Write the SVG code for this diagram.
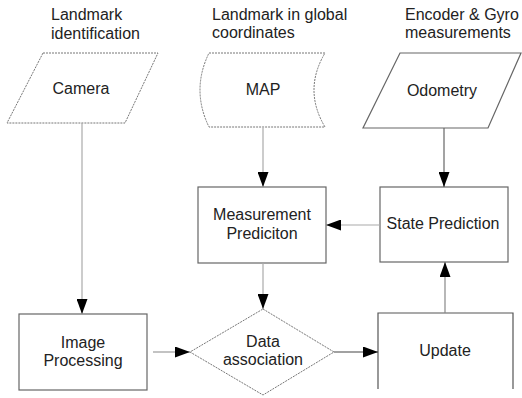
<svg xmlns="http://www.w3.org/2000/svg" width="522" height="398" viewBox="0 0 522 398">
<defs>
<marker id="ah" markerWidth="15" markerHeight="11" refX="15" refY="5.5" orient="auto" markerUnits="userSpaceOnUse">
<path d="M0,0 L15,5.5 L0,11 Z" fill="#000"/>
</marker>
<style>
text{font-family:"Liberation Sans",Arial,sans-serif;font-size:16px;fill:#222}
.c{text-anchor:middle}
.n{fill:#fff;stroke:#666;stroke-width:1.2}
.d{fill:#fff;stroke:#777;stroke-width:1;stroke-dasharray:2,1}
.e{fill:none;stroke:#aaa;stroke-width:1.2;marker-end:url(#ah)}
</style>
</defs>
<rect width="522" height="398" fill="#fff"/>
<g id="labels">
<text x="51" y="20">Landmark</text>
<text x="51" y="39">identification</text>
<text x="212" y="20">Landmark in global</text>
<text x="212" y="38">coordinates</text>
<text x="405" y="20">Encoder &amp; Gyro</text>
<text x="405" y="38">measurements</text>
</g>
<g id="camera">
<path class="d" d="M43,53 H158 L125,123 H7 Z"/>
<text class="c" x="81" y="94">Camera</text>
</g>
<g id="map">
<path class="d" d="M209,53 H325 Q303,90 325,127 H209 Q191,90 209,53 Z"/>
<text class="c" x="263" y="95">MAP</text>
</g>
<g id="odometry">
<path class="n" d="M400,53 H521 L488,128 H363 Z"/>
<text class="c" x="442" y="96">Odometry</text>
</g>
<g id="meas">
<rect class="n" x="198" y="187" width="128" height="76"/>
<text class="c" x="262" y="220">Measurement</text>
<text class="c" x="262" y="239">Prediciton</text>
</g>
<g id="state">
<rect class="n" x="380" y="187" width="128" height="75"/>
<text class="c" x="443" y="229">State Prediction</text>
</g>
<g id="image">
<rect class="n" x="19" y="314" width="128" height="76"/>
<text class="c" x="83" y="348">Image</text>
<text class="c" x="83" y="366">Processing</text>
</g>
<g id="data">
<path class="d" d="M263,309 L334,352 L263,395 L190,352 Z"/>
<text class="c" x="263" y="347">Data</text>
<text class="c" x="263" y="365">association</text>
</g>
<g id="update">
<path d="M378,389 V313 H513 V389" fill="#fff" stroke="#555" stroke-width="1.2"/>
<text class="c" x="445" y="356">Update</text>
</g>
<g id="connectors">
<path class="e" d="M82,123 V314"/>
<path class="e" d="M263,128 V187"/>
<path class="e" d="M444,128 V187" style="stroke:#666"/>
<path class="e" d="M380,225 H326"/>
<path class="e" d="M263,263 V309"/>
<path class="e" d="M153,352 H190" style="stroke:#888"/>
<path class="e" d="M334,352 H378" style="stroke:#444"/>
<path class="e" d="M445,313 V262" style="stroke:#888"/>
</g>
</svg>
